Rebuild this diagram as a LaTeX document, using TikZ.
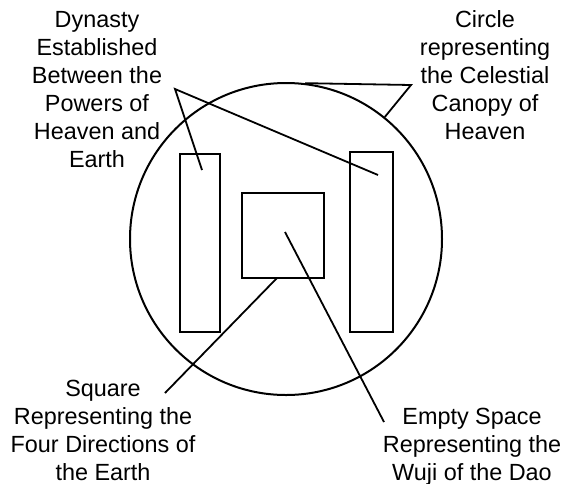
\documentclass[tikz,border=0pt]{standalone}
\usepackage{fontspec}
\setmainfont{Liberation Sans}
\usetikzlibrary{positioning}

\tikzset{
  frame/.style={draw, line width=1pt, inner sep=0pt},
  caption/.style={align=center, anchor=north, inner sep=0pt, font=\fontsize{11.7}{14}\selectfont},
  leader/.style={line width=0.9pt}
}

\begin{document}
\begin{tikzpicture}[x=0.5pt, y=-0.5pt]
        \useasboundingbox (0,0) rectangle (562,483);
        % the circle and the three shapes inside it
        \node[frame, circle, minimum size=156pt] (ring) at (286,239) {};
        \node[frame, minimum width=20pt, minimum height=89pt] (pillarL) at (200,243) {};
        \node[frame, minimum width=21.5pt, minimum height=90pt] (pillarR) at (371.5,242) {};
        \node[frame, minimum width=41pt, minimum height=42.5pt] (earth) at (283,235.5) {};
        % labels
        \node[caption] (dynasty) at (97,11) {Dynasty\\Established\\Between the\\Powers of\\Heaven and\\Earth};
        \node[caption] (canopy) at (485,10) {Circle\\representing\\the Celestial\\Canopy of\\Heaven};
        \node[caption] (square) at (103,380) {Square\\Representing the\\Four Directions of\\the Earth};
        \node[caption] (wuji) at (472,408) {Empty Space\\Representing the\\Wuji of the Dao};
        % leader lines
        \coordinate (dynTip) at (175,89);
        \coordinate (inL) at (202,170);
        \coordinate (inR) at (378,175);
        \coordinate (canTip) at (411,85);
        \coordinate (sqTip) at (165,393);
        \coordinate (sqEdge) at (277,278);
        \coordinate (voidIn) at (285,232);
        \coordinate (voidTip) at (384,422);
        \draw[leader] (inL) -- (dynTip) -- (inR);
        \draw[leader] (ring.83) -- (canTip) -- (ring.51);
        \draw[leader] (sqEdge) -- (sqTip);
        \draw[leader] (voidIn) -- (voidTip);
      \end{tikzpicture}
\end{document}
